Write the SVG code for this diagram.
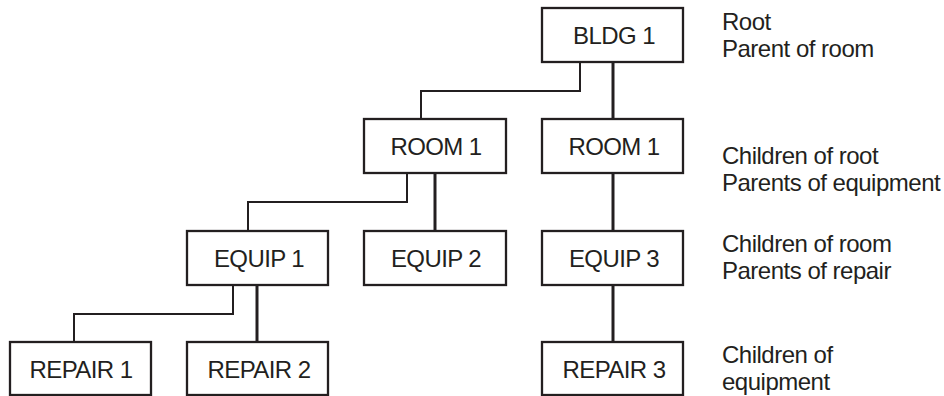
<svg xmlns="http://www.w3.org/2000/svg" width="944" height="396" viewBox="0 0 944 396">
<style>
.box{fill:#fff;stroke:#231f20;stroke-width:2.3}
.lbl{font-family:"Liberation Sans",Arial,sans-serif;font-size:24px;fill:#231f20;text-anchor:middle;letter-spacing:-0.6px}
.note{font-family:"Liberation Sans",Arial,sans-serif;font-size:24px;fill:#231f20;letter-spacing:-0.5px}
.thin{fill:none;stroke:#231f20;stroke-width:2}
.thick{fill:none;stroke:#231f20;stroke-width:3}
</style>
<rect width="944" height="396" fill="#fff"/>
<g id="connectors">
<polyline class="thin" points="580,62 580,91 421,91 421,119"/>
<line class="thick" x1="613" y1="62" x2="613" y2="119"/>
<polyline class="thin" points="407,173 407,202 248,202 248,231"/>
<line class="thick" x1="435" y1="173" x2="435" y2="231"/>
<line class="thick" x1="613" y1="173" x2="613" y2="231"/>
<polyline class="thin" points="233,285 233,314 74,314 74,342"/>
<line class="thick" x1="257" y1="285" x2="257" y2="342"/>
<line class="thick" x1="613" y1="285" x2="613" y2="342"/>
</g>
<g id="bldg1"><rect class="box" x="542" y="8" width="141" height="54"/><text class="lbl" x="614" y="44">BLDG 1</text></g>
<g id="room1a"><rect class="box" x="364" y="119" width="142" height="54"/><text class="lbl" x="436" y="155">ROOM 1</text></g>
<g id="room1b"><rect class="box" x="542" y="119" width="141" height="54"/><text class="lbl" x="614" y="155">ROOM 1</text></g>
<g id="equip1"><rect class="box" x="187" y="231" width="141" height="54"/><text class="lbl" x="259" y="267">EQUIP 1</text></g>
<g id="equip2"><rect class="box" x="364" y="231" width="142" height="54"/><text class="lbl" x="436" y="267">EQUIP 2</text></g>
<g id="equip3"><rect class="box" x="542" y="231" width="141" height="54"/><text class="lbl" x="614" y="267">EQUIP 3</text></g>
<g id="repair1"><rect class="box" x="10" y="342" width="141" height="53"/><text class="lbl" x="81" y="378">REPAIR 1</text></g>
<g id="repair2"><rect class="box" x="187" y="342" width="141" height="53"/><text class="lbl" x="259" y="378">REPAIR 2</text></g>
<g id="repair3"><rect class="box" x="542" y="342" width="141" height="53"/><text class="lbl" x="614" y="378">REPAIR 3</text></g>
<g id="notes">
<text class="note" x="722" y="30">Root</text>
<text class="note" x="722" y="57">Parent of room</text>
<text class="note" x="722" y="164">Children of root</text>
<text class="note" x="722" y="191">Parents of equipment</text>
<text class="note" x="722" y="252">Children of room</text>
<text class="note" x="722" y="279">Parents of repair</text>
<text class="note" x="722" y="363">Children of</text>
<text class="note" x="722" y="390">equipment</text>
</g>
</svg>
